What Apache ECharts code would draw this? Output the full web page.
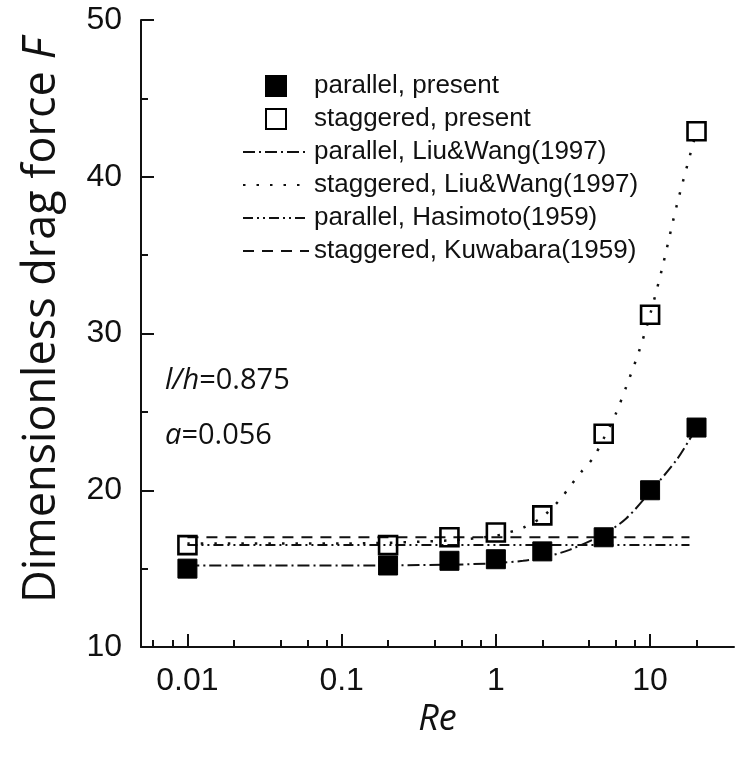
<!DOCTYPE html>
<html><head><meta charset="utf-8">
<script src="https://cdn.jsdelivr.net/npm/echarts@6/dist/echarts.min.js"></script>
<style>html,body{margin:0;padding:0;background:#fff}#c{width:735px;height:758px}</style>
</head><body><div id="c"></div>
<script>
// ---- data ----
const reValues = [0.01, 0.2, 0.5, 1, 2, 5, 10, 20];
const parallelPresent = [15.0, 15.2, 15.5, 15.6, 16.1, 17.0, 20.0, 24.0];
const staggeredPresent = [16.5, 16.5, 17.0, 17.3, 18.4, 23.6, 31.2, 42.9];

const liuWangParRe = [0.01, 0.1, 0.5, 1, 1.5, 2, 3, 5, 7, 10, 15, 20];
const liuWangParF  = [15.2, 15.2, 15.25, 15.35, 15.5, 15.7, 16.2, 17.2, 18.2, 19.9, 22.0, 24.0];

const liuWangStgRe = [0.01, 0.1, 0.5, 1, 1.2, 1.5, 2, 2.6, 3, 3.6, 4.3, 5, 6, 7, 8.5, 10, 12, 15, 20];
const liuWangStgF  = [16.6, 16.6, 16.8, 17.1, 17.3, 17.6, 18.3, 19.4, 20.2, 21.2, 22.1, 23.3, 24.9, 26.6, 28.9, 31.2, 34.2, 38.3, 42.9];

const hasimotoRe = [0.01, 18];
const hasimotoF  = [16.5, 16.5];
const kuwabaraRe = [0.01, 18];
const kuwabaraF  = [17.0, 17.0];

const xMajorTicks = [0.01, 0.1, 1, 10];
const xTickLabels = ['0.01', '0.1', '1', '10'];
const xMinorTicks = [0.006, 0.008, 0.02, 0.04, 0.06, 0.08, 0.2, 0.4, 0.6, 0.8, 2, 4, 6, 8, 20];

const seriesNames = [
  'parallel, present',
  'staggered, present',
  'parallel, Liu&Wang(1997)',
  'staggered, Liu&Wang(1997)',
  'parallel, Hasimoto(1959)',
  'staggered, Kuwabara(1959)'
];

// ---- build ----
const zip = (a, b) => a.map((v, i) => [v, b[i]]);
const INK = '#111';
const sq = 'path://M0,0H10V10H0Z';
const noSymbol = {color: 'rgba(0,0,0,0)', borderColor: 'rgba(0,0,0,0)', borderWidth: 0, opacity: 0};

const chart = echarts.init(document.getElementById('c'), null, {renderer: 'canvas'});

function labelFor(v) {
  for (let i = 0; i < xMajorTicks.length; i++) {
    if (Math.abs(Math.log10(v) - Math.log10(xMajorTicks[i])) < 1e-6) return xTickLabels[i];
  }
  return '';
}

const option = {
  animation: false,
  backgroundColor: '#fff',
  grid: {left: 141, top: 20, right: 1, bottom: 111, containLabel: false},
  xAxis: [{
    type: 'log', logBase: 10, min: 0.005, max: 35,
    position: 'bottom',
    name: 'Re', nameLocation: 'middle', nameGap: 49,
    nameTextStyle: {fontFamily: 'Open Sans', fontStyle: 'italic', fontSize: 36, color: INK},
    axisLine: {show: true, lineStyle: {color: INK, width: 2}},
    axisTick: {show: true, inside: true, length: 13, lineStyle: {color: INK, width: 2}, customValues: xMajorTicks},
    axisLabel: {show: true, margin: 18, fontSize: 32, fontFamily: 'Liberation Sans', color: INK,
      customValues: xMajorTicks, formatter: labelFor},
    splitLine: {show: false}
  }, {
    type: 'log', logBase: 10, min: 0.005, max: 35,
    position: 'bottom',
    axisLine: {show: false},
    axisTick: {show: true, inside: true, length: 7, lineStyle: {color: INK, width: 2}, customValues: xMinorTicks},
    axisLabel: {show: false},
    splitLine: {show: false}
  }],
  yAxis: {
    type: 'value', min: 10, max: 50, interval: 10,
    name: '{n|Dimensionless drag force }{i|F}',
    nameLocation: 'middle', nameRotate: 90, nameGap: 76,
    nameTextStyle: {
      padding: [0, 0, 0, 26],
      rich: {
        n: {fontFamily: 'Open Sans', fontSize: 45, color: INK},
        i: {fontFamily: 'Open Sans', fontSize: 45, fontStyle: 'italic', color: INK}
      }
    },
    axisLine: {show: true, lineStyle: {color: INK, width: 2}},
    axisTick: {show: true, inside: true, length: 13, lineStyle: {color: INK, width: 2}},
    minorTick: {show: true, splitNumber: 2, length: 7, lineStyle: {color: INK, width: 2}},
    axisLabel: {margin: 19, fontSize: 32, fontFamily: 'Liberation Sans', color: INK},
    splitLine: {show: false}
  },
  legend: {
    orient: 'vertical', left: 242, top: 73,
    itemWidth: 66, itemHeight: 20, itemGap: 7, padding: 0,
    selectedMode: false,
    textStyle: {fontSize: 26, fontFamily: 'Liberation Sans', color: INK},
    data: [
      {name: seriesNames[0], icon: sq},
      {name: seriesNames[1], icon: sq},
      {name: seriesNames[2], itemStyle: noSymbol},
      {name: seriesNames[3], itemStyle: noSymbol},
      {name: seriesNames[4], itemStyle: noSymbol},
      {name: seriesNames[5], itemStyle: noSymbol}
    ]
  },
  graphic: [
    {type: 'text', left: 165, top: 366, style: {
      text: '{i|l/h}=0.875', fill: INK,
      font: '29px "Open Sans"',
      rich: {i: {fontStyle: 'italic', fontFamily: 'Open Sans', fontSize: 29, fill: INK}}
    }},
    {type: 'text', left: 165, top: 421, style: {
      text: '{i|a}=0.056', fill: INK,
      font: '29px "Open Sans"',
      rich: {i: {fontStyle: 'italic', fontFamily: 'Open Sans', fontSize: 29, fill: INK}}
    }}
  ],
  series: [
    {
      name: seriesNames[2], type: 'line', data: zip(liuWangParRe, liuWangParF),
      symbol: 'none', smooth: 0.3, z: 2, itemStyle: {color: INK},
      lineStyle: {color: INK, width: 2, type: [12, 4, 2, 4]}
    },
    {
      name: seriesNames[3], type: 'line', data: zip(liuWangStgRe, liuWangStgF),
      symbol: 'none', smooth: 0.3, z: 2, itemStyle: {color: INK},
      lineStyle: {color: INK, width: 2.5, type: [2.5, 11]}
    },
    {
      name: seriesNames[4], type: 'line', data: zip(hasimotoRe, hasimotoF),
      symbol: 'none', z: 2, itemStyle: {color: INK},
      lineStyle: {color: INK, width: 2, type: [10, 4, 2, 4, 2, 4]}
    },
    {
      name: seriesNames[5], type: 'line', data: zip(kuwabaraRe, kuwabaraF),
      symbol: 'none', z: 2, itemStyle: {color: INK},
      lineStyle: {color: INK, width: 2, type: [11, 8]}
    },
    {
      name: seriesNames[0], type: 'scatter', data: zip(reValues, parallelPresent),
      symbol: 'rect', symbolSize: 19, z: 5,
      itemStyle: {color: '#000', borderColor: '#000', borderWidth: 1, opacity: 1}
    },
    {
      name: seriesNames[1], type: 'scatter', data: zip(reValues, staggeredPresent),
      symbol: 'rect', symbolSize: 18, z: 5,
      itemStyle: {color: 'rgba(255,255,255,0)', borderColor: '#000', borderWidth: 2.6, opacity: 1}
    }
  ]
};
chart.setOption(option);
</script>
</body></html>
